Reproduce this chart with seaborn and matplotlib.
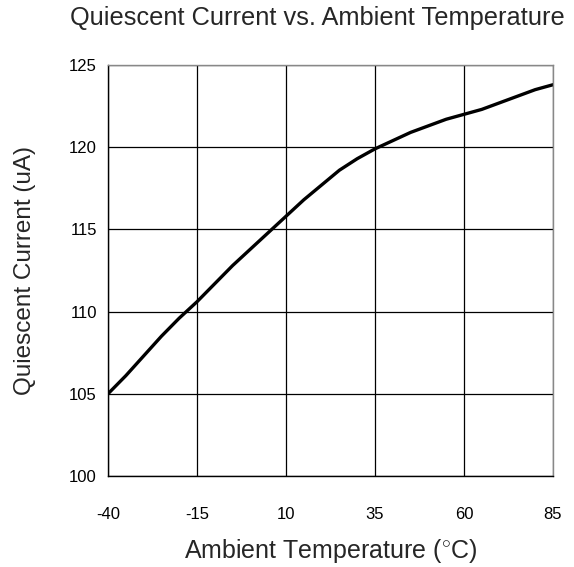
import matplotlib
matplotlib.use('Agg')
import matplotlib.pyplot as plt
import seaborn as sns
import pandas as pd

# temperature (C) and quiescent current (uA)
temps = [-40, -35, -30, -25, -20, -15, -10, -5, 0, 5, 10, 15, 20, 25,
         30, 35, 40, 45, 50, 55, 60, 65, 70, 75, 80, 85]
current = [105.0, 106.1, 107.3, 108.5, 109.6, 110.6, 111.7, 112.8, 113.8, 114.8,
           115.8, 116.8, 117.7, 118.6, 119.3, 119.9, 120.4, 120.9, 121.3, 121.7,
           122.0, 122.3, 122.7, 123.1, 123.5, 123.8]
x_ticks = [-40, -15, 10, 35, 60, 85]
y_ticks = [100, 105, 110, 115, 120, 125]

df = pd.DataFrame({"temp": temps, "current": current})

sns.set_theme(style="white")
plt.rcParams['font.family'] = ['Liberation Sans', 'DejaVu Sans']
plt.rcParams['mathtext.fontset'] = 'custom'
plt.rcParams['mathtext.rm'] = 'Liberation Sans'
plt.rcParams['axes.unicode_minus'] = False

fig = plt.figure(figsize=(5.74, 5.67), dpi=100)
ax = fig.add_axes([108 / 574, 1 - 476 / 567, 445 / 574, 411 / 567])

sns.lineplot(data=df, x="temp", y="current", ax=ax, color="black", linewidth=2.4)

ax.set_xlim(-40, 85)
ax.set_ylim(100, 125)
ax.set_xticks(x_ticks)
ax.set_yticks(y_ticks)
ax.grid(True, color="black", linewidth=0.9)
ax.tick_params(axis="both", labelsize=12, length=0, colors="black")
ax.tick_params(axis="y", pad=8)
ax.tick_params(axis="x", pad=22)
for side in ["left", "bottom"]:
    ax.spines[side].set_color("black")
    ax.spines[side].set_linewidth(1.0)
for side in ["top", "right"]:
    ax.spines[side].set_color("#888888")
    ax.spines[side].set_linewidth(1.0)

ax.set_xlabel("Ambient Temperature ($^{\\circ}$C)", fontsize=18, labelpad=11)
ax.set_ylabel("Quiescent Current (uA)", fontsize=17.5, labelpad=24)
fig.text(317 / 574, 1 - 18 / 567, "Quiescent Current vs. Ambient Temperature",
         ha="center", va="center", fontsize=18.3)

fig.savefig("out.png", dpi=100, facecolor="white")
